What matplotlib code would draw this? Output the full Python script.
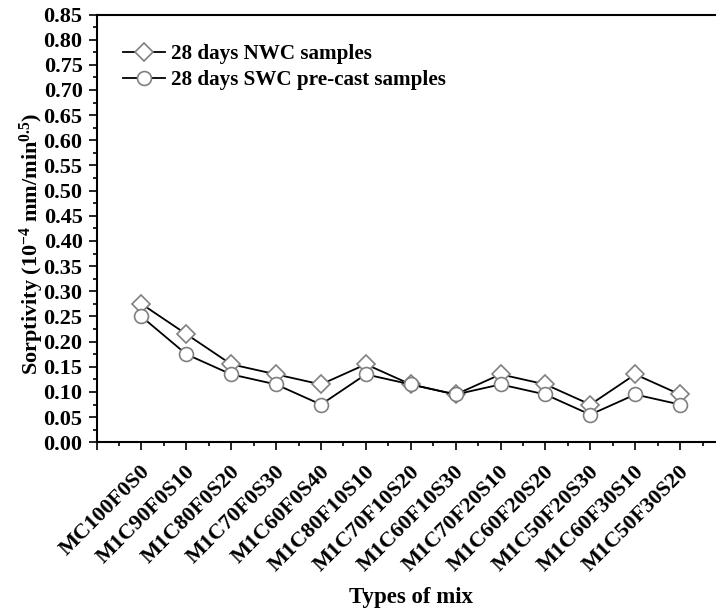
import matplotlib
matplotlib.use("Agg")
import matplotlib.pyplot as plt
from matplotlib.ticker import MultipleLocator, FixedLocator, FormatStrFormatter
from matplotlib.lines import Line2D
import matplotlib.transforms as mtransforms

mixes = ["MC100F0S0", "M1C90F0S10", "M1C80F0S20", "M1C70F0S30", "M1C60F0S40",
         "M1C80F10S10", "M1C70F10S20", "M1C60F10S30", "M1C70F20S10", "M1C60F20S20",
         "M1C50F20S30", "M1C60F30S10", "M1C50F30S20"]
nwc = [0.275, 0.215, 0.155, 0.135, 0.115, 0.155, 0.115, 0.095, 0.135, 0.115, 0.075, 0.135, 0.095]
swc = [0.25, 0.175, 0.135, 0.115, 0.075, 0.135, 0.115, 0.095, 0.115, 0.095, 0.055, 0.095, 0.075]
series_labels = ["28 days NWC samples", "28 days SWC pre-cast samples"]

plt.rcParams['font.family'] = ['Liberation Serif', 'DejaVu Serif']
plt.rcParams['font.weight'] = 'bold'
plt.rcParams['mathtext.fontset'] = 'custom'
plt.rcParams['mathtext.rm'] = 'Liberation Serif:bold'
plt.rcParams['mathtext.bf'] = 'Liberation Serif:bold'
plt.rcParams['mathtext.default'] = 'bf'

fig = plt.figure(figsize=(7.16, 6.09), dpi=100)
ax = fig.add_axes([96.5/716, 1 - 442.3/609, (725 - 96.5)/716, (442.3 - 14.5)/609])

x = list(range(1, len(mixes) + 1))
edge = '#808080'
ax.plot(x, nwc, color='black', lw=1.3, marker='D', ms=9.5, mfc='white', mec=edge, mew=1.2,
        label=series_labels[0], zorder=3)
ax.plot(x, swc, color='black', lw=1.3, marker='o', ms=10, mfc='white', mec=edge, mew=1.2,
        label=series_labels[1], zorder=3)

ax.set_xlim(0, 14)
ax.set_ylim(0, 0.85)
ax.spines['right'].set_visible(False)
for s in ['left', 'bottom', 'top']:
    ax.spines[s].set_linewidth(1.5)

ax.yaxis.set_major_locator(MultipleLocator(0.05))
ax.yaxis.set_minor_locator(MultipleLocator(0.025))
ax.yaxis.set_major_formatter(FormatStrFormatter('%.2f'))

ax.xaxis.set_major_locator(FixedLocator(list(range(0, 15))))
ax.xaxis.set_minor_locator(MultipleLocator(0.5))
ax.set_xticklabels([''] + mixes + [''])

ax.tick_params(axis='both', which='major', direction='out', length=6, width=1.2, labelsize=16)
ax.tick_params(axis='both', which='minor', direction='out', length=3, width=1.2)
ax.tick_params(axis='y', which='major', pad=4)
ax.tick_params(axis='x', which='major', pad=13)
ax.tick_params(top=False, right=False, which='both')

offset = mtransforms.ScaledTranslation(4/72, 0, fig.dpi_scale_trans)
for lbl in ax.get_xticklabels():
    lbl.set_rotation(45)
    lbl.set_ha('right')
    lbl.set_va('center')
    lbl.set_rotation_mode('anchor')
    lbl.set_transform(lbl.get_transform() + offset)
    lbl.set_fontweight('bold')
for lbl in ax.get_yticklabels():
    lbl.set_fontweight('bold')

ax.set_ylabel(r'Sorptivity (10$^{-4}$ mm/min$^{0.5}$)', fontsize=16, fontweight='bold')
ax.yaxis.set_label_coords(-0.08, 0.465)
ax.set_xlabel('Types of mix', fontsize=16.5, fontweight='bold', labelpad=8)

handles = [Line2D([0], [0], color='black', lw=1.3, marker='D', ms=9.5, mfc='white', mec=edge, mew=1.2),
           Line2D([0], [0], color='black', lw=1.3, marker='o', ms=10, mfc='white', mec=edge, mew=1.2)]
leg = ax.legend(handles, series_labels, loc='upper left', bbox_to_anchor=(0.028, 0.95),
                frameon=False, fontsize=15.2, handlelength=2.0, handletextpad=0.3,
                labelspacing=0.28, borderaxespad=0)
for t in leg.get_texts():
    t.set_fontweight('bold')

fig.savefig('out.png', dpi=100)
